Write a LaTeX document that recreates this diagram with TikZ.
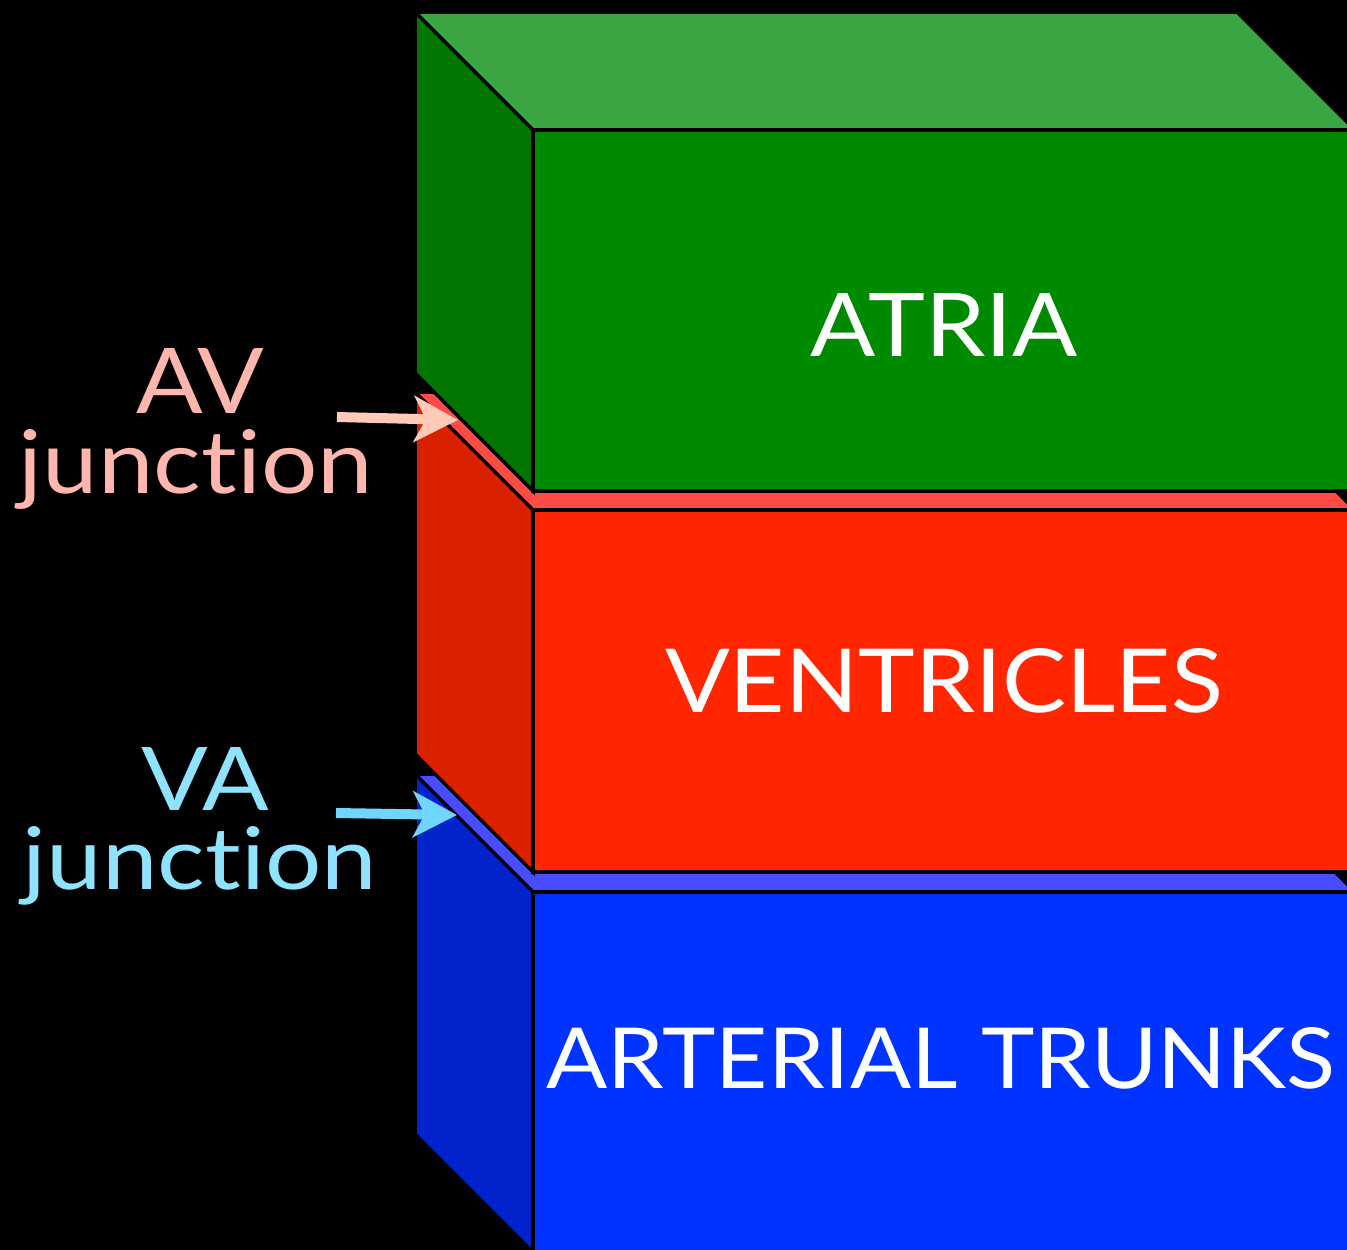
\documentclass[tikz,border=0pt]{standalone}
\usepackage{fontspec}
\IfFontExistsTF{Lato}{\setmainfont{Lato}}{\setmainfont{Liberation Sans}}
\usetikzlibrary{arrows.meta}
\definecolor{gtop}{HTML}{3CA644}
\definecolor{gside}{HTML}{037503}
\definecolor{gfront}{HTML}{008A00}
\definecolor{rtop}{HTML}{FF4B45}
\definecolor{rside}{HTML}{D92100}
\definecolor{rfront}{HTML}{FF2600}
\definecolor{btop}{HTML}{4A4DFF}
\definecolor{bside}{HTML}{0323CC}
\definecolor{bfront}{HTML}{0033FF}
\definecolor{avtext}{HTML}{FFB6AE}
\definecolor{avarrow}{HTML}{FFCBB8}
\definecolor{vatext}{HTML}{8FE3FF}
\definecolor{vaarrow}{HTML}{70D6FF}
\newsavebox{\fitsave}
\newcommand{\fitbox}[3]{%
  \sbox{\fitsave}{\fontsize{80pt}{90pt}\selectfont #3}%
  \ifdim\wd\fitsave>1pt
    \ifdim\ht\fitsave>1pt
      \resizebox{#1}{#2}{\usebox{\fitsave}}%
    \else\usebox{\fitsave}\fi
  \else\usebox{\fitsave}\fi}
\tikzset{
  face/.style={draw=black, line width=3.5pt, line join=miter},
  boxlabel/.style={text=white, inner sep=0pt, anchor=base},
  sidelabel/.style={inner sep=0pt, anchor=base},
  junctionarrow/.style={line width=10pt, -{Stealth[length=44pt,width=46pt,inset=12pt]}}
}
\newcommand{\slab}[4]{%
  \fill[#3top, face] (415,#1) -- (1237,#1) -- (1355,#1+118) -- (533,#1+118) -- cycle;
  \fill[#3side, face] (415,#1) -- (533,#1+118) -- (533,#1+118+#2) -- (415,#1+#2) -- cycle;
  \fill[#3front, face] (533,#1+118) -- (1355,#1+118) -- (1355,#1+118+#2) -- (533,#1+118+#2) -- cycle;
}
\begin{document}
\begin{tikzpicture}[x=1pt, y=-1pt]
\useasboundingbox (0,0) rectangle (1347,1250);
\fill[black] (0,0) rectangle (1347,1250);
\clip (0,0) rectangle (1347,1250);
\slab{774}{360}{b}{}
\slab{392}{362}{r}{}
\slab{12}{361}{g}{}
\node[boxlabel] (atria) at (944,356) {\fitbox{268pt}{63pt}{ATRIA}};
\node[boxlabel] (ventricles) at (944,712) {\fitbox{558pt}{64pt}{VENTRICLES}};
\node[boxlabel] (trunks) at (941,1088) {\fitbox{789pt}{61pt}{ARTERIAL TRUNKS}};
\node[sidelabel, text=avtext] (av) at (200,413) {\fitbox{128pt}{65pt}{AV}};
\node[sidelabel, text=avtext] (avj) at (196,493) {\fitbox{354pt}{64pt}{junct\kern0pt ion}};
\node[sidelabel, text=vatext] (va) at (205,810) {\fitbox{128pt}{63pt}{VA}};
\node[sidelabel, text=vatext] (vaj) at (200,889) {\fitbox{354pt}{63pt}{junct\kern0pt ion}};
\coordinate (avtail) at (337,417);
\coordinate (avtip) at (458,420);
\coordinate (vatail) at (336,813);
\coordinate (vatip) at (457,815);
\draw[junctionarrow, avarrow] (avtail) -- (avtip);
\draw[junctionarrow, vaarrow] (vatail) -- (vatip);
\end{tikzpicture}
\end{document}
